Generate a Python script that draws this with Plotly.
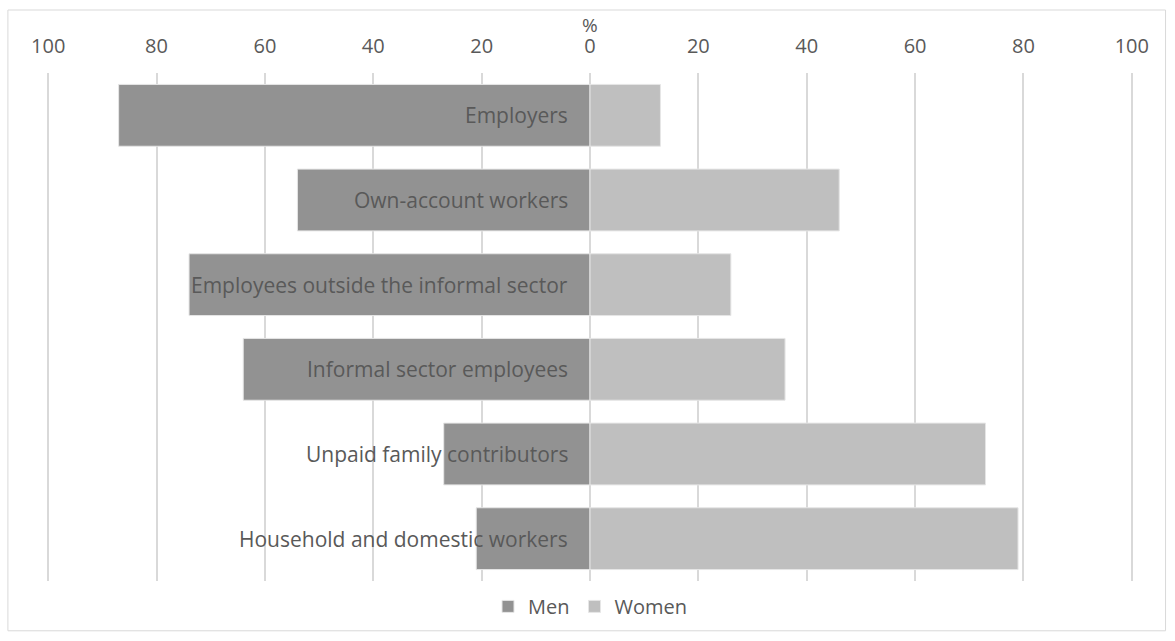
import plotly.graph_objects as go

categories = ["Employers", "Own-account workers", "Employees outside the informal sector",
              "Informal sector employees", "Unpaid family contributors", "Household and domestic workers"]
men = [87, 54, 74, 64, 27, 21]
women = [13, 46, 26, 36, 73, 79]
tick_vals = [-100, -80, -60, -40, -20, 0, 20, 40, 60, 80, 100]
tick_text = ["100", "80", "60", "40", "20", "0", "20", "40", "60", "80", "100"]

FONT = "Open Sans"
TXT = "#595959"

fig = go.Figure()
fig.add_trace(go.Bar(y=categories, x=[-v for v in men], orientation="h", name="Men",
                     marker=dict(color="#929292", line=dict(color="#e6e6e6", width=1)),
                     width=0.73))
fig.add_trace(go.Bar(y=categories, x=women, orientation="h", name="Women",
                     marker=dict(color="#bfbfbf", line=dict(color="#e6e6e6", width=1)),
                     width=0.73))

for c in categories:
    fig.add_annotation(x=0, y=c, xref="x", yref="y", text=c, showarrow=False,
                       xanchor="right", xshift=-20, font=dict(family=FONT, size=21, color=TXT))

fig.add_annotation(x=0, y=1, xref="x", yref="paper", yshift=48, yanchor="middle", text="%",
                   showarrow=False, font=dict(family=FONT, size=19, color=TXT))

fig.add_shape(type="rect", xref="paper", yref="paper", x0=-0.035, x1=1.029, y0=-0.098, y1=1.124,
              line=dict(color="#d9d9d9", width=1), fillcolor="rgba(0,0,0,0)", layer="below")

fig.update_layout(
    width=1175, height=641,
    margin=dict(l=46, r=41, t=73, b=60),
    barmode="relative",
    plot_bgcolor="white", paper_bgcolor="white",
    font=dict(family=FONT, size=20, color=TXT),
    showlegend=True,
    legend=dict(orientation="h", x=0.5, xanchor="center", y=-0.05, yanchor="middle",
                font=dict(family=FONT, size=20, color=TXT), traceorder="normal"),
    xaxis=dict(side="top", range=[-100.4, 100.4], tickvals=tick_vals, ticktext=tick_text,
               showgrid=True, gridcolor="#d9d9d9", gridwidth=1.5, zeroline=True,
               zerolinecolor="#d9d9d9", zerolinewidth=1.5, showline=False, ticks="",
               ticklabelstandoff=15, tickfont=dict(family=FONT, size=20, color=TXT)),
    yaxis=dict(autorange="reversed", showticklabels=False, showgrid=False, zeroline=False,
               showline=False, ticks=""),
    bargap=0.27,
)

fig.write_html("out.html")
